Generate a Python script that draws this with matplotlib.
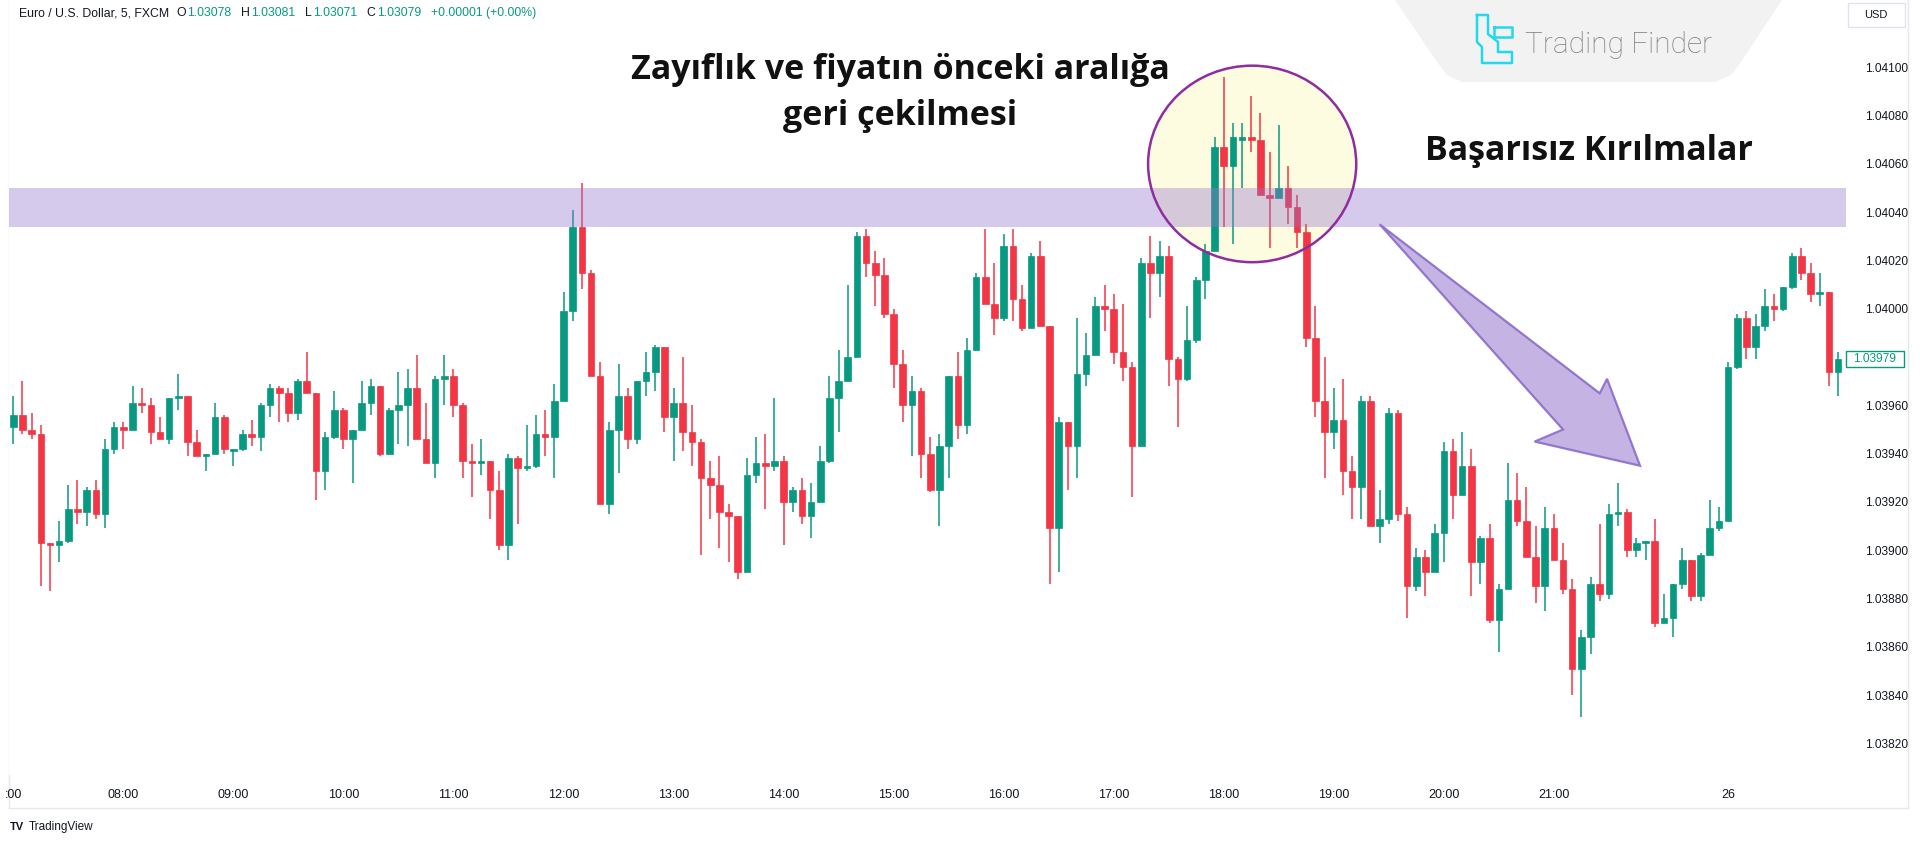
import numpy as np
import matplotlib
matplotlib.use("Agg")
import matplotlib.pyplot as plt
from matplotlib.patches import Ellipse, Polygon, Rectangle
from matplotlib.lines import Line2D

# ---------------- data (EUR/USD, 5 min candles) ----------------
opens = [
    1.03951, 1.03956, 1.03950, 1.03948, 1.03903, 1.03902, 1.03904, 1.03917, 1.03916, 1.03925,
    1.03915, 1.03942, 1.03951, 1.03950, 1.03961, 1.03960, 1.03949, 1.03946, 1.03963, 1.03964,
    1.03945, 1.03939, 1.03940, 1.03955, 1.03941, 1.03942, 1.03948, 1.03947, 1.03960, 1.03967,
    1.03965, 1.03957, 1.03970, 1.03965, 1.03933, 1.03947, 1.03958, 1.03946, 1.03950, 1.03961,
    1.03968, 1.03940, 1.03958, 1.03960, 1.03967, 1.03946, 1.03936, 1.03971, 1.03972, 1.03960,
    1.03937, 1.03936, 1.03937, 1.03925, 1.03902, 1.03938, 1.03934, 1.03935, 1.03948, 1.03947,
    1.03962, 1.03999, 1.04034, 1.04015, 1.03972, 1.03919, 1.03950, 1.03964, 1.03946, 1.03970,
    1.03974, 1.03984, 1.03955, 1.03961, 1.03949, 1.03945, 1.03930, 1.03927, 1.03916, 1.03914,
    1.03891, 1.03931, 1.03936, 1.03935, 1.03937, 1.03920, 1.03925, 1.03914, 1.03920, 1.03937,
    1.03963, 1.03970, 1.03980, 1.04030, 1.04019, 1.04014, 1.03998, 1.03977, 1.03960, 1.03966,
    1.03940, 1.03925, 1.03943, 1.03972, 1.03952, 1.03983, 1.04013, 1.04002, 1.03996, 1.04026,
    1.04004, 1.03992, 1.04022, 1.03993, 1.03909, 1.03953, 1.03943, 1.03973, 1.03981, 1.04001,
    1.04000, 1.03982, 1.03976, 1.03943, 1.04019, 1.04015, 1.04022, 1.03979, 1.03971, 1.03987,
    1.04012, 1.04024, 1.04067, 1.04059, 1.04070, 1.04071, 1.04070, 1.04047, 1.04046, 1.04050,
    1.04042, 1.04032, 1.03988, 1.03962, 1.03949, 1.03954, 1.03933, 1.03926, 1.03962, 1.03910,
    1.03913, 1.03957, 1.03915, 1.03885, 1.03897, 1.03891, 1.03907, 1.03941, 1.03923, 1.03935,
    1.03895, 1.03905, 1.03871, 1.03884, 1.03921, 1.03912, 1.03897, 1.03885, 1.03909, 1.03896,
    1.03884, 1.03851, 1.03864, 1.03886, 1.03882, 1.03915, 1.03916, 1.03900, 1.03903, 1.03904,
    1.03870, 1.03872, 1.03886, 1.03896, 1.03881, 1.03898, 1.03909, 1.03912, 1.03976, 1.03996,
    1.03984, 1.03993, 1.04001, 1.04000, 1.04009, 1.04022, 1.04015, 1.04006, 1.04007, 1.03974,
]
highs = [
    1.03964, 1.03970, 1.03957, 1.03952, 1.03903, 1.03912, 1.03927, 1.03929, 1.03926, 1.03929,
    1.03946, 1.03953, 1.03953, 1.03968, 1.03967, 1.03963, 1.03955, 1.03963, 1.03973, 1.03964,
    1.03950, 1.03940, 1.03961, 1.03956, 1.03942, 1.03950, 1.03954, 1.03961, 1.03969, 1.03968,
    1.03967, 1.03971, 1.03982, 1.03965, 1.03949, 1.03966, 1.03959, 1.03950, 1.03970, 1.03971,
    1.03968, 1.03959, 1.03974, 1.03975, 1.03981, 1.03961, 1.03972, 1.03981, 1.03975, 1.03961,
    1.03944, 1.03946, 1.03937, 1.03933, 1.03940, 1.03939, 1.03952, 1.03956, 1.03958, 1.03969,
    1.04007, 1.04041, 1.04052, 1.04016, 1.03978, 1.03953, 1.03977, 1.03967, 1.03970, 1.03982,
    1.03985, 1.03984, 1.03967, 1.03980, 1.03960, 1.03946, 1.03937, 1.03939, 1.03919, 1.03914,
    1.03938, 1.03947, 1.03948, 1.03963, 1.03939, 1.03926, 1.03930, 1.03928, 1.03943, 1.03972,
    1.03983, 1.04010, 1.04032, 1.04033, 1.04024, 1.04021, 1.04000, 1.03983, 1.03972, 1.03967,
    1.03947, 1.03948, 1.03972, 1.03982, 1.03988, 1.04015, 1.04033, 1.04019, 1.04031, 1.04033,
    1.04010, 1.04023, 1.04028, 1.03993, 1.03955, 1.03953, 1.03996, 1.03990, 1.04005, 1.04010,
    1.04006, 1.04002, 1.03978, 1.04021, 1.04030, 1.04028, 1.04026, 1.03980, 1.04001, 1.04013,
    1.04027, 1.04071, 1.04096, 1.04077, 1.04077, 1.04088, 1.04081, 1.04065, 1.04076, 1.04059,
    1.04047, 1.04035, 1.04001, 1.03980, 1.03967, 1.03971, 1.03939, 1.03964, 1.03964, 1.03925,
    1.03959, 1.03958, 1.03918, 1.03901, 1.03900, 1.03911, 1.03945, 1.03946, 1.03949, 1.03942,
    1.03906, 1.03911, 1.03886, 1.03936, 1.03932, 1.03926, 1.03910, 1.03918, 1.03915, 1.03903,
    1.03888, 1.03867, 1.03889, 1.03911, 1.03919, 1.03928, 1.03917, 1.03905, 1.03904, 1.03913,
    1.03882, 1.03886, 1.03901, 1.03896, 1.03899, 1.03921, 1.03918, 1.03978, 1.03998, 1.03999,
    1.03998, 1.04008, 1.04006, 1.04009, 1.04023, 1.04025, 1.04019, 1.04015, 1.04007, 1.03982,
]
lows = [
    1.03944, 1.03948, 1.03946, 1.03885, 1.03883, 1.03895, 1.03903, 1.03911, 1.03910, 1.03913,
    1.03909, 1.03940, 1.03942, 1.03950, 1.03957, 1.03944, 1.03946, 1.03944, 1.03958, 1.03939,
    1.03939, 1.03933, 1.03940, 1.03940, 1.03935, 1.03941, 1.03943, 1.03941, 1.03955, 1.03953,
    1.03953, 1.03954, 1.03965, 1.03921, 1.03925, 1.03946, 1.03942, 1.03928, 1.03950, 1.03956,
    1.03939, 1.03940, 1.03944, 1.03943, 1.03946, 1.03936, 1.03930, 1.03960, 1.03955, 1.03930,
    1.03922, 1.03931, 1.03913, 1.03900, 1.03896, 1.03911, 1.03933, 1.03934, 1.03939, 1.03930,
    1.03962, 1.03995, 1.04008, 1.03972, 1.03919, 1.03915, 1.03932, 1.03942, 1.03944, 1.03964,
    1.03966, 1.03949, 1.03937, 1.03941, 1.03935, 1.03898, 1.03913, 1.03901, 1.03895, 1.03888,
    1.03891, 1.03928, 1.03917, 1.03933, 1.03902, 1.03916, 1.03911, 1.03905, 1.03920, 1.03936,
    1.03949, 1.03970, 1.03980, 1.04013, 1.04001, 1.03996, 1.03967, 1.03953, 1.03939, 1.03930,
    1.03924, 1.03910, 1.03930, 1.03946, 1.03948, 1.03983, 1.04002, 1.03989, 1.03995, 1.03995,
    1.03991, 1.03992, 1.03993, 1.03886, 1.03891, 1.03925, 1.03930, 1.03968, 1.03981, 1.03991,
    1.03977, 1.03970, 1.03922, 1.03943, 1.03996, 1.04005, 1.03968, 1.03951, 1.03970, 1.03986,
    1.04004, 1.04024, 1.04034, 1.04027, 1.04050, 1.04065, 1.04047, 1.04025, 1.04046, 1.04035,
    1.04025, 1.03984, 1.03955, 1.03930, 1.03942, 1.03923, 1.03913, 1.03913, 1.03910, 1.03903,
    1.03911, 1.03912, 1.03872, 1.03883, 1.03881, 1.03891, 1.03895, 1.03913, 1.03923, 1.03881,
    1.03886, 1.03870, 1.03858, 1.03884, 1.03910, 1.03897, 1.03878, 1.03875, 1.03896, 1.03882,
    1.03840, 1.03831, 1.03857, 1.03879, 1.03880, 1.03910, 1.03897, 1.03897, 1.03896, 1.03868,
    1.03870, 1.03864, 1.03884, 1.03879, 1.03879, 1.03898, 1.03908, 1.03912, 1.03975, 1.03979,
    1.03979, 1.03991, 1.03995, 1.03999, 1.04008, 1.04012, 1.04003, 1.04001, 1.03968, 1.03964,
]
closes = [
    1.03956, 1.03950, 1.03948, 1.03903, 1.03902, 1.03904, 1.03917, 1.03916, 1.03925, 1.03915,
    1.03942, 1.03951, 1.03950, 1.03961, 1.03960, 1.03949, 1.03946, 1.03963, 1.03964, 1.03945,
    1.03939, 1.03940, 1.03955, 1.03942, 1.03942, 1.03948, 1.03947, 1.03960, 1.03967, 1.03965,
    1.03957, 1.03970, 1.03965, 1.03933, 1.03947, 1.03958, 1.03946, 1.03950, 1.03961, 1.03968,
    1.03940, 1.03958, 1.03960, 1.03967, 1.03946, 1.03936, 1.03971, 1.03972, 1.03960, 1.03937,
    1.03936, 1.03937, 1.03925, 1.03902, 1.03938, 1.03934, 1.03935, 1.03948, 1.03947, 1.03962,
    1.03999, 1.04034, 1.04015, 1.03972, 1.03919, 1.03950, 1.03964, 1.03946, 1.03970, 1.03974,
    1.03984, 1.03955, 1.03961, 1.03949, 1.03945, 1.03930, 1.03927, 1.03916, 1.03914, 1.03891,
    1.03931, 1.03936, 1.03935, 1.03937, 1.03920, 1.03925, 1.03914, 1.03920, 1.03937, 1.03963,
    1.03970, 1.03980, 1.04030, 1.04019, 1.04014, 1.03998, 1.03977, 1.03960, 1.03966, 1.03940,
    1.03925, 1.03943, 1.03972, 1.03952, 1.03983, 1.04013, 1.04002, 1.03996, 1.04026, 1.04004,
    1.03992, 1.04022, 1.03993, 1.03909, 1.03953, 1.03943, 1.03973, 1.03981, 1.04001, 1.04000,
    1.03982, 1.03976, 1.03943, 1.04019, 1.04015, 1.04022, 1.03979, 1.03971, 1.03987, 1.04012,
    1.04024, 1.04067, 1.04059, 1.04071, 1.04071, 1.04070, 1.04047, 1.04046, 1.04050, 1.04042,
    1.04032, 1.03988, 1.03962, 1.03949, 1.03954, 1.03933, 1.03926, 1.03962, 1.03910, 1.03913,
    1.03957, 1.03915, 1.03885, 1.03897, 1.03891, 1.03907, 1.03941, 1.03923, 1.03935, 1.03895,
    1.03905, 1.03871, 1.03884, 1.03921, 1.03912, 1.03897, 1.03885, 1.03909, 1.03896, 1.03884,
    1.03851, 1.03864, 1.03886, 1.03882, 1.03915, 1.03916, 1.03900, 1.03903, 1.03904, 1.03870,
    1.03872, 1.03886, 1.03896, 1.03881, 1.03898, 1.03909, 1.03912, 1.03976, 1.03996, 1.03984,
    1.03993, 1.04001, 1.04000, 1.04009, 1.04022, 1.04015, 1.04006, 1.04007, 1.03974, 1.03979,
]

time_tick_index = [0, 12, 24, 36, 48, 60, 72, 84, 96, 108, 120, 132, 144, 156, 168, 187]
time_tick_labels = [":00", "08:00", "09:00", "10:00", "11:00", "12:00", "13:00", "14:00",
                    "15:00", "16:00", "17:00", "18:00", "19:00", "20:00", "21:00", "26"]
price_ticks = [1.03820, 1.03840, 1.03860, 1.03880, 1.03900, 1.03920, 1.03940, 1.03960,
               1.04000, 1.04020, 1.04040, 1.04060, 1.04080, 1.04100]

zone_low, zone_high = 1.04034, 1.04050
last_price = 1.03979

header_symbol = "Euro / U.S. Dollar, 5, FXCM"
header_ohlc = [("O", "1.03078"), ("H", "1.03081"), ("L", "1.03071"), ("C", "1.03079")]
header_change = "+0.00001 (+0.00%)"

title_text = "Zayıflık ve fiyatın önceki aralığa\ngeri çekilmesi"
label_text = "Başarısız Kırılmalar"

# annotation geometry (candle index, price)
circle_center = (135.1, 1.04060)
circle_size = (22.7, 0.000814)
arrow_verts = [(149.0, 1.04035), (173.0, 1.03965), (173.8, 1.03971), (177.4, 1.03935),
               (165.9, 1.03945), (169.0, 1.03950)]

# ---------------- style ----------------
GREEN = "#089981"
RED = "#f23645"
TXT = "#131722"
TITLE_FONT = ["Open Sans", "DejaVu Sans"]
plt.rcParams["font.family"] = ["Liberation Sans", "DejaVu Sans"]

W, H = 1920, 842
fig = plt.figure(figsize=(W / 100, H / 100), dpi=100)
fig.patch.set_facecolor("white")


def fx(px):
    return px / W


def fy(py):
    return 1 - py / H


ax = fig.add_axes([fx(9), fy(775), fx(1846) - fx(9), fy(0) - fy(775)])
ax.set_facecolor("white")

o = np.array(opens)
h = np.array(highs)
l = np.array(lows)
c = np.array(closes)
x = np.arange(len(o))
col = np.where(c >= o, GREEN, RED)

# circle fill under candles
ax.add_patch(Ellipse(circle_center, circle_size[0], circle_size[1],
                     facecolor="#fdfce0", edgecolor="none", zorder=1))

ax.vlines(x, l, h, colors=col, linewidth=1.1, zorder=2)
ax.bar(x, np.abs(c - o), bottom=np.minimum(o, c), width=0.72, color=col,
       edgecolor=col, linewidth=0.5, zorder=3)

# resistance zone
ax.axhspan(zone_low, zone_high, facecolor="#9575cd", alpha=0.38, linewidth=0, zorder=4)
# circle outline
ax.add_patch(Ellipse(circle_center, circle_size[0], circle_size[1],
                     fill=False, edgecolor="#8e2ca0", linewidth=1.8, zorder=5))
# arrow
ax.add_patch(Polygon(arrow_verts, closed=True, facecolor=(0.584, 0.459, 0.804, 0.55),
                     edgecolor=(0.52, 0.40, 0.78, 0.85), linewidth=1.6, zorder=6))

ax.set_xlim(-0.47, 199.86)
ax.set_ylim(1.038069, 1.041279)
for s in ax.spines.values():
    s.set_visible(False)

ax.set_xticks(time_tick_index)
ax.set_xticklabels(time_tick_labels, fontsize=9, color=TXT)
ax.tick_params(axis="x", length=0, pad=10)
ax.yaxis.tick_right()
ax.set_yticks(price_ticks)
ax.set_yticklabels([f"{p:.5f}" for p in price_ticks], fontsize=8.6, color=TXT)
ax.tick_params(axis="y", length=0, pad=14)

fig.canvas.draw()
renderer = fig.canvas.get_renderer()

# last price tag
ydisp = ax.transData.transform((0, last_price))[1]
yfrac = ydisp / H
fig.add_artist(Rectangle((fx(1846), yfrac - 8 / H), fx(58), 16 / H, transform=fig.transFigure,
                         facecolor="white", edgecolor=GREEN, linewidth=1.0, zorder=10))
fig.text(fx(1875), yfrac, f"{last_price:.5f}", color=GREEN, fontsize=8.6,
         ha="center", va="center", zorder=11)

# USD box
fig.add_artist(Rectangle((fx(1848), fy(27)), fx(57), 24 / H, transform=fig.transFigure,
                         facecolor="white", edgecolor="#e0e3eb", linewidth=1.0, zorder=10))
fig.text(fx(1876), fy(15), "USD", color=TXT, fontsize=8, ha="center", va="center", zorder=11)

# widget borders
for (x0, y0, x1, y1) in [(9, 0, 9, 808), (1908, 0, 1908, 808), (9, 808, 1908, 808)]:
    fig.add_artist(Line2D([fx(x0), fx(x1)], [fy(y0), fy(y1)], color="#e6e8ee", linewidth=1.0,
                          transform=fig.transFigure, zorder=0))

# header (laid out sequentially)
cursor = [19.0]


def put(s, color, gap):
    t = fig.text(fx(cursor[0]), fy(13), s, color=color, fontsize=8.8, ha="left", va="center")
    bb = t.get_window_extent(renderer)
    cursor[0] = bb.x1 + gap


put(header_symbol, TXT, 7)
for letter, val in header_ohlc:
    put(letter, TXT, 1)
    put(val, GREEN, 10)
put(header_change, GREEN, 0)

# titles
fig.text(fx(900), fy(93), title_text, fontsize=24.5, fontweight="bold", color="#111111",
         family=TITLE_FONT, ha="center", va="center", linespacing=1.47, zorder=12)
fig.text(fx(1589), fy(151), label_text, fontsize=24.5, fontweight="bold", color="#111111",
         family=TITLE_FONT, ha="center", va="center", zorder=12)

# Trading Finder logo
trap = [(1395, 0), (1437, 62), (1447, 75), (1462, 82), (1715, 82), (1731, 75), (1741, 62),
        (1782, 0)]
fig.add_artist(Polygon([(fx(a), fy(b)) for a, b in trap], closed=True, transform=fig.transFigure,
                       facecolor="#f2f2f2", edgecolor="none", zorder=8))
icon1 = [(1477, 15), (1488, 15), (1488, 34), (1498, 42), (1498, 52), (1512, 52), (1512, 63),
         (1482, 63), (1482, 47), (1477, 42), (1477, 15)]
icon2 = [(1494, 27), (1512, 27), (1512, 37), (1494, 37), (1494, 27)]
for poly in (icon1, icon2):
    fig.add_artist(Line2D([fx(a) for a, b in poly], [fy(b) for a, b in poly], color="#22d8ec",
                          linewidth=1.8, transform=fig.transFigure, zorder=9))
fig.text(fx(1525), fy(45), "Trading Finder", color="#808080", fontsize=21.5,
         family=["Roboto", "DejaVu Sans"], fontweight="light", ha="left", va="center", zorder=9)

# TradingView footer
fig.text(fx(10), fy(827), "TV", color="#131722", fontsize=8, fontweight="heavy",
         ha="left", va="center")
fig.text(fx(29), fy(827), "TradingView", color="#131722", fontsize=8.5, ha="left", va="center")

fig.savefig("out.png", dpi=100, facecolor="white")
